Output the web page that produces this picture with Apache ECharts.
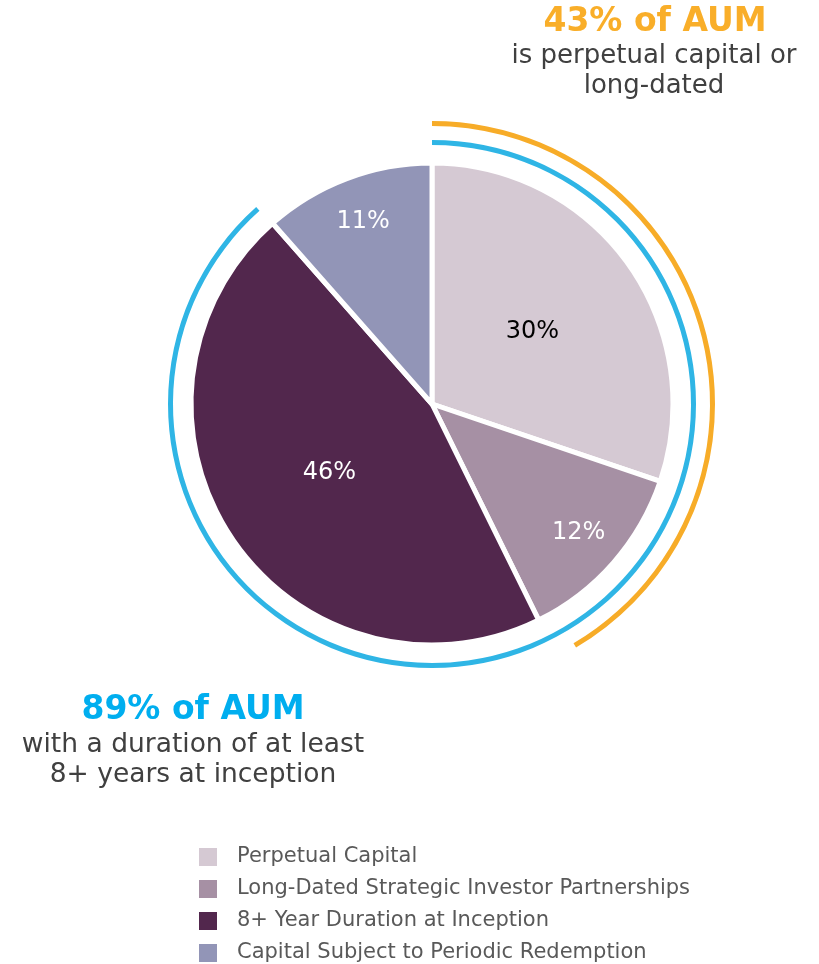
<!DOCTYPE html>
<html>
<head>
<meta charset="utf-8">
<script src="https://cdn.jsdelivr.net/npm/echarts@6/dist/echarts.min.js"></script>
<style>
  html, body { margin: 0; padding: 0; background: #fff; }
  #main { width: 819px; height: 964px; }
</style>
</head>
<body>
<div id="main"></div>
<script>
// data
var categories = [
  "Perpetual Capital",
  "Long-Dated Strategic Investor Partnerships",
  "8+ Year Duration at Inception",
  "Capital Subject to Periodic Redemption",
];
var shares = [30.2, 12.5, 45.8, 11.5];
var shareLabels = ["30%", "12%", "46%", "11%"];
var colors = ["#D5C9D3", "#A690A4", "#52274D", "#9295B7"];
// which labels sit near the middle of the radius and which further out
var labelNear = [true, false, true, false];

// outer arcs, as drawn (percent of full circle)
var orangeArc = 41.5;
var blueArc = 88.4;

var FONT = "DejaVu Sans";
var center = [432, 404];

var mainData = categories.map(function (name, i) {
  return {
    name: name,
    value: shares[i],
    itemStyle: { color: colors[i] },
    label: {
      show: labelNear[i],
      color: i === 0 ? "#000" : "#fff",
    },
  };
});
var outerLabelData = categories.map(function (name, i) {
  return {
    name: name,
    value: shares[i],
    label: { show: !labelNear[i], color: "#fff" },
  };
});

function ring(r, value, color) {
  return {
    type: "pie",
    silent: true,
    center: center,
    radius: [r[0], r[1]],
    startAngle: 90,
    clockwise: true,
    label: { show: false },
    labelLine: { show: false },
    emphasis: { disabled: true },
    data: [
      { name: "arc", value: value, itemStyle: { color: color } },
      { name: "gap", value: 100 - value, itemStyle: { color: "transparent" } },
    ],
  };
}

function text(x, y, str, font, fill) {
  return {
    type: "text",
    style: {
      x: x, y: y,
      text: str,
      font: font,
      fill: fill,
      textAlign: "center",
      textVerticalAlign: "middle",
    },
  };
}

var chart = echarts.init(document.getElementById("main"));
chart.setOption({
  animation: false,
  color: colors,
  legend: {
    data: categories,
    orient: "vertical",
    left: 197,
    top: 846,
    height: 140,
    padding: 0,
    icon: "rect",
    itemWidth: 20,
    itemHeight: 20,
    itemGap: 10,
    selectedMode: false,
    textStyle: {
      fontFamily: FONT,
      fontSize: 21,
      lineHeight: 19,
      color: "#595959",
      padding: [0, 0, 0, 14],
    },
  },
  graphic: [
    text(655, 22, "43% of AUM", "bold 33px '" + FONT + "'", "#F9AE29"),
    text(654, 56, "is perpetual capital or", "26px '" + FONT + "'", "#404040"),
    text(654, 86, "long-dated", "26px '" + FONT + "'", "#404040"),
    text(193, 710, "89% of AUM", "bold 33px '" + FONT + "'", "#00AEEF"),
    text(193, 745, "with a duration of at least", "26.5px '" + FONT + "'", "#404040"),
    text(193, 775, "8+ years at inception", "26.5px '" + FONT + "'", "#404040"),
  ],
  series: [
    ring([278, 283], orangeArc, "#F7AC28"),
    ring([259, 264], blueArc, "#2FB5E5"),
    {
      name: "AUM",
      type: "pie",
      center: center,
      radius: [0, 241],
      startAngle: 90,
      clockwise: true,
      avoidLabelOverlap: false,
      itemStyle: { borderColor: "#fff", borderWidth: 5 },
      label: {
        position: "inside",
        fontFamily: FONT,
        fontSize: 24,
        formatter: function (p) { return shareLabels[p.dataIndex]; },
      },
      labelLine: { show: false },
      emphasis: { disabled: true },
      data: mainData,
    },
    {
      // invisible copy, only used to place the outer labels
      type: "pie",
      silent: true,
      center: center,
      radius: [0, 384],
      startAngle: 90,
      clockwise: true,
      avoidLabelOverlap: false,
      itemStyle: { color: "transparent", borderWidth: 0 },
      label: {
        position: "inside",
        fontFamily: FONT,
        fontSize: 24,
        formatter: function (p) { return shareLabels[p.dataIndex]; },
      },
      labelLine: { show: false },
      emphasis: { disabled: true },
      data: outerLabelData,
      z: 3,
    },
  ],
});
</script>
</body>
</html>
